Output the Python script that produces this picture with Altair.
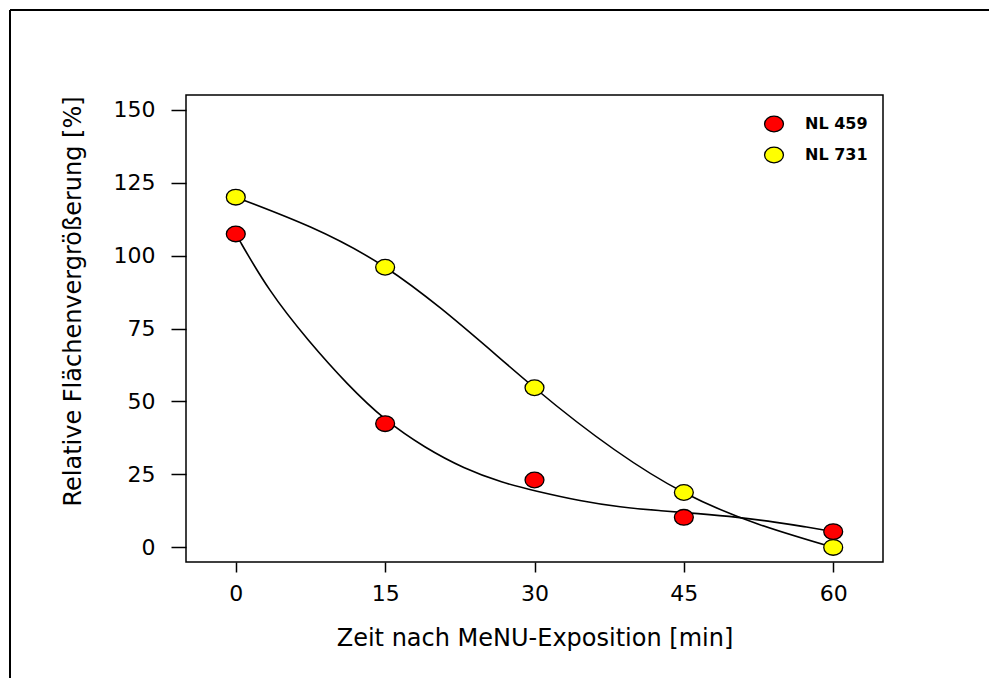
import altair as alt
import pandas as pd

# ---- data ----
time_min = [0, 15, 30, 45, 60]
nl459 = [107.4, 42.4, 23.1, 10.3, 5.4]
nl731 = [120.0, 96.0, 54.7, 18.8, 0.0]
series_names = ["NL 459", "NL 731"]
series_colors = ["#ff0000", "#ffff00"]

# fitted curve drawn for NL 459
fit459_t = [0, 3.3, 7.3, 11.2, 15, 19, 22.9, 26.8, 30, 34.7, 38.6, 42.5, 46.4, 50.4, 54.3, 57, 60]
fit459_v = [107.4, 87.8, 70.7, 55.8, 43.4, 34.1, 27.0, 22.1, 19.4, 15.8, 13.8, 12.6, 11.6, 10.4, 8.6, 7.2, 5.4]

x_ticks = [0, 15, 30, 45, 60]
y_ticks = [0, 25, 50, 75, 100, 125, 150]

x_title = "Zeit nach MeNU-Exposition [min]"
y_title = "Relative Flächenvergrößerung [%]"

# ---- tables ----
pts = pd.DataFrame({
    "t": time_min + time_min,
    "v": nl459 + nl731,
    "series": [series_names[0]] * len(time_min) + [series_names[1]] * len(time_min),
    "order": list(range(2 * len(time_min))),
})
red_fit = pd.DataFrame({"t": fit459_t, "v": fit459_v})
yellow_line = pd.DataFrame({"t": time_min, "v": nl731})

ellipse = "M -1.05 0 A 1.05 0.87 0 1 0 1.05 0 A 1.05 0.87 0 1 0 -1.05 0 Z"
FONT = "DejaVu Sans"

xscale = alt.Scale(domain=[-5, 65], nice=False, zero=False)
yscale = alt.Scale(domain=[-5, 155], nice=False, zero=False)

xaxis = alt.Axis(
    values=x_ticks, title=x_title, grid=False, domain=False,
    tickSize=10, tickColor="black", tickWidth=1.5,
    labelFont=FONT, labelFontSize=22, labelColor="black", labelPadding=11,
    labelFlush=False, labelOverlap=False,
    titleFont=FONT, titleFontSize=24, titleFontWeight="normal", titleColor="black",
    titleBaseline="alphabetic", titleX=348.5, titleY=83, titleAlign="center",
)
yaxis = alt.Axis(
    values=y_ticks, title=y_title, grid=False, domain=False,
    tickSize=15, tickColor="black", tickWidth=1.5,
    labelFont=FONT, labelFontSize=22, labelColor="black", labelPadding=16,
    labelFlush=False, labelOverlap=False,
    titleFont=FONT, titleFontSize=24, titleFontWeight="normal", titleColor="black",
    titleAngle=270, titleBaseline="alphabetic", titleAlign="center",
    titleX=-106, titleY=206,
)

X = alt.X("t:Q", scale=xscale, axis=xaxis)
Y = alt.Y("v:Q", scale=yscale, axis=yaxis)

# outer frame of the figure (only its top and left edges lie inside the picture)
frame_df = pd.DataFrame({"k": [0]})
frame_top = alt.Chart(frame_df).mark_rule(color="black", strokeWidth=2).encode(
    x=alt.value(-176), x2=alt.value(803), y=alt.value(-85), y2=alt.value(-85)
)
frame_left = alt.Chart(frame_df).mark_rule(color="black", strokeWidth=2).encode(
    x=alt.value(-176), x2=alt.value(-176), y=alt.value(-85), y2=alt.value(583)
)

red_curve = alt.Chart(red_fit).mark_line(
    color="black", strokeWidth=1.6, interpolate="basis"
).encode(x=X, y=Y)

yellow_curve = alt.Chart(yellow_line).mark_line(
    color="black", strokeWidth=1.6, interpolate="natural"
).encode(x=X, y=Y)

points = alt.Chart(pts).mark_point(
    shape=ellipse, filled=True, size=324, stroke="black", strokeWidth=1.3, opacity=1
).encode(
    x=X, y=Y,
    fill=alt.Fill(
        "series:N",
        scale=alt.Scale(domain=series_names, range=series_colors),
        legend=alt.Legend(
            orient="none", legendX=578, legendY=19, title=None,
            symbolType=ellipse, symbolSize=324,
            symbolStrokeColor="black", symbolStrokeWidth=1.3, symbolOpacity=1,
            labelFont=FONT, labelFontSize=16, labelFontWeight="bold",
            labelColor="black", labelOffset=21, rowPadding=9, padding=0,
        ),
    ),
    order=alt.Order("order:Q"),
)

chart = alt.layer(frame_top, frame_left, red_curve, yellow_curve, points).properties(
    width=697, height=467,
    autosize=alt.AutoSizeParams(type="none"),
    padding={"left": 178, "top": 87, "right": 106, "bottom": 116},
    background="white",
).configure_view(stroke="black", strokeWidth=1.5)

chart.save("out.html", embed_options={"renderer": "svg", "actions": False})
